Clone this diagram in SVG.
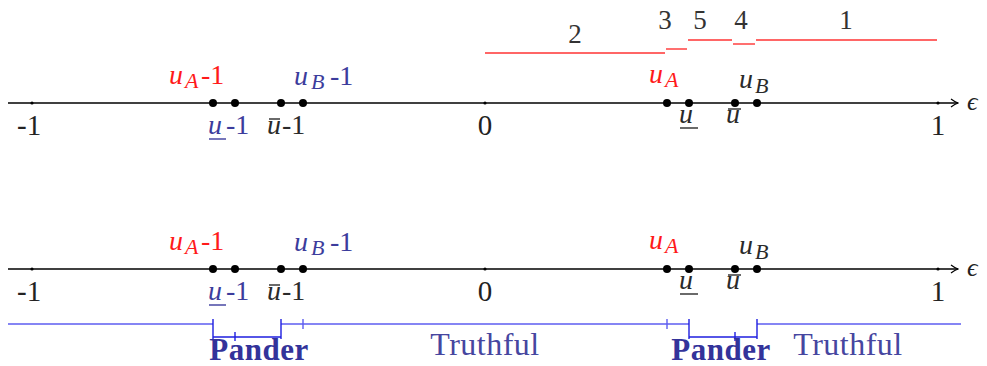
<svg xmlns="http://www.w3.org/2000/svg" width="987" height="366" viewBox="0 0 987 366">
<defs>
<marker id="arr" viewBox="0 0 10 10" refX="9" refY="5" markerWidth="10" markerHeight="10" markerUnits="userSpaceOnUse" orient="auto">
<path d="M2,1 Q6,4 9,5 Q6,6 2,9" fill="none" stroke="#000" stroke-width="1.2"/>
</marker>
<style>
text, tspan{font-family:"Liberation Serif","Times New Roman","DejaVu Serif",serif}
.ax{stroke:#000;stroke-width:1.3;fill:none}
.dot{fill:#000}
.tk{fill:#000}
.num{font-size:29px;fill:#222}
.m{font-style:italic;font-size:28px}
.s{font-style:italic;font-size:22px}
.r{font-size:28px}
.red{fill:#ff1a1a}
.blu{fill:#3c3c9c}
.gry{fill:#2a2a2a}
.rl{stroke:#ff3333;stroke-width:1.4}
.bl{stroke:#5c5cf0;stroke-width:1.4;fill:none}
.bk{stroke:#1f1fe0;stroke-width:1.4;fill:none}
.seg{font-size:27px;fill:#333}
.pander{font-size:31px;font-weight:bold;fill:#33339a;letter-spacing:0.5px}
.truth{font-size:32px;fill:#4646a0;letter-spacing:0.5px}
</style>
</defs>

<g id="segments">
<line class="rl" x1="485" y1="53" x2="665" y2="53"/>
<line class="rl" x1="666" y1="49" x2="687" y2="49"/>
<line class="rl" x1="688" y1="40" x2="732" y2="40"/>
<line class="rl" x1="733" y1="44" x2="755" y2="44"/>
<line class="rl" x1="756" y1="40" x2="937" y2="40"/>
<text class="seg" x="575" y="43" text-anchor="middle">2</text>
<text class="seg" x="665" y="29" text-anchor="middle">3</text>
<text class="seg" x="700" y="29" text-anchor="middle">5</text>
<text class="seg" x="741" y="29" text-anchor="middle">4</text>
<text class="seg" x="846" y="29" text-anchor="middle">1</text>
</g>

<g id="axis-top">
<line class="ax" x1="8" y1="103" x2="958" y2="103" marker-end="url(#arr)"/>
<circle class="tk" cx="32" cy="103" r="1.6"/>
<circle class="tk" cx="485" cy="103" r="1.6"/>
<circle class="tk" cx="938" cy="103" r="1.6"/>
<circle class="dot" cx="213" cy="103" r="4"/>
<circle class="dot" cx="235" cy="103" r="4"/>
<circle class="dot" cx="281" cy="103" r="4"/>
<circle class="dot" cx="303" cy="103" r="4"/>
<circle class="dot" cx="667" cy="103" r="4"/>
<circle class="dot" cx="689" cy="103" r="4"/>
<circle class="dot" cx="735" cy="103" r="4"/>
<circle class="dot" cx="757" cy="103" r="4"/>
<text class="num" x="17" y="135">-1</text>
<text class="num" x="485" y="135" text-anchor="middle">0</text>
<text class="num" x="938" y="135" text-anchor="middle">1</text>
<text x="967" y="110" style="font-size:26px;font-style:italic" fill="#222">ϵ</text>
<text class="red"><tspan class="m" x="169" y="84">u</tspan><tspan class="s" x="185" y="88">A</tspan><tspan class="r" x="201" y="84">-1</tspan></text>
<text class="blu"><tspan class="m" x="294" y="85">u</tspan><tspan class="s" x="311" y="89">B</tspan><tspan class="r" x="330" y="85">-1</tspan></text>
<text class="blu"><tspan class="m" x="208" y="134">u</tspan><tspan class="r" x="226" y="134">-1</tspan></text>
<line x1="209" y1="139" x2="226" y2="139" stroke="#3c3c9c" stroke-width="1.4"/>
<text class="gry"><tspan class="m" x="267" y="134">u</tspan><tspan class="r" x="282" y="134">-1</tspan></text>
<line x1="269" y1="119" x2="280" y2="119" stroke="#2a2a2a" stroke-width="1.4"/>
<text class="red"><tspan class="m" x="649" y="83">u</tspan><tspan class="s" x="665" y="87">A</tspan></text>
<text class="gry"><tspan class="m" x="739" y="88">u</tspan><tspan class="s" x="755" y="93">B</tspan></text>
<text class="gry"><tspan class="m" x="679" y="123">u</tspan></text>
<line x1="680" y1="128" x2="698" y2="128" stroke="#2a2a2a" stroke-width="1.4"/>
<text class="gry"><tspan class="m" x="726" y="123">u</tspan></text>
<line x1="728" y1="109" x2="741" y2="109" stroke="#2a2a2a" stroke-width="1.4"/>
</g>

<g id="axis-bottom">
<line class="ax" x1="8" y1="269" x2="958" y2="269" marker-end="url(#arr)"/>
<circle class="tk" cx="32" cy="269" r="1.6"/>
<circle class="tk" cx="485" cy="269" r="1.6"/>
<circle class="tk" cx="938" cy="269" r="1.6"/>
<circle class="dot" cx="213" cy="269" r="4"/>
<circle class="dot" cx="235" cy="269" r="4"/>
<circle class="dot" cx="281" cy="269" r="4"/>
<circle class="dot" cx="303" cy="269" r="4"/>
<circle class="dot" cx="667" cy="269" r="4"/>
<circle class="dot" cx="689" cy="269" r="4"/>
<circle class="dot" cx="735" cy="269" r="4"/>
<circle class="dot" cx="757" cy="269" r="4"/>
<text class="num" x="17" y="301">-1</text>
<text class="num" x="485" y="301" text-anchor="middle">0</text>
<text class="num" x="938" y="301" text-anchor="middle">1</text>
<text x="967" y="276" style="font-size:26px;font-style:italic" fill="#222">ϵ</text>
<text class="red"><tspan class="m" x="169" y="250">u</tspan><tspan class="s" x="185" y="254">A</tspan><tspan class="r" x="201" y="250">-1</tspan></text>
<text class="blu"><tspan class="m" x="294" y="251">u</tspan><tspan class="s" x="311" y="255">B</tspan><tspan class="r" x="330" y="251">-1</tspan></text>
<text class="blu"><tspan class="m" x="208" y="300">u</tspan><tspan class="r" x="226" y="300">-1</tspan></text>
<line x1="209" y1="305" x2="226" y2="305" stroke="#3c3c9c" stroke-width="1.4"/>
<text class="gry"><tspan class="m" x="267" y="300">u</tspan><tspan class="r" x="282" y="300">-1</tspan></text>
<line x1="269" y1="285" x2="280" y2="285" stroke="#2a2a2a" stroke-width="1.4"/>
<text class="red"><tspan class="m" x="649" y="249">u</tspan><tspan class="s" x="665" y="253">A</tspan></text>
<text class="gry"><tspan class="m" x="739" y="254">u</tspan><tspan class="s" x="755" y="259">B</tspan></text>
<text class="gry"><tspan class="m" x="679" y="289">u</tspan></text>
<line x1="680" y1="294" x2="698" y2="294" stroke="#2a2a2a" stroke-width="1.4"/>
<text class="gry"><tspan class="m" x="726" y="289">u</tspan></text>
<line x1="728" y1="275" x2="741" y2="275" stroke="#2a2a2a" stroke-width="1.4"/>
</g>

<g id="regions">
<line class="bl" x1="8" y1="324" x2="213" y2="324"/>
<line class="bl" x1="281" y1="324" x2="689" y2="324"/>
<line class="bl" x1="757" y1="324" x2="961" y2="324"/>
<line class="bl" x1="303" y1="319" x2="303" y2="329"/>
<line class="bl" x1="667" y1="319" x2="667" y2="329"/>
<path class="bk" d="M213,319 V339 M281,319 V339 M689,319 V339 M757,319 V339 M213,337 H281 M689,337 H757 M235,332 V341 M735,332 V341"/>
<text class="pander" x="259" y="360" text-anchor="middle">Pander</text>
<text class="pander" x="721" y="360" text-anchor="middle">Pander</text>
<text class="truth" x="485" y="355" text-anchor="middle">Truthful</text>
<text class="truth" x="848" y="355" text-anchor="middle">Truthful</text>
</g>
</svg>
